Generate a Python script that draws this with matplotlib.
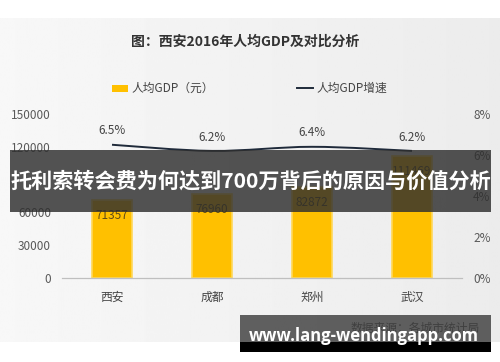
import matplotlib

matplotlib.use("Agg")
import matplotlib.pyplot as plt
import numpy as np
from matplotlib.patches import Rectangle, PathPatch
from matplotlib.path import Path

plt.rcParams["font.family"] = ["Noto Sans CJK SC", "DejaVu Sans"]

W, H = 500, 362

cities = ["西安", "成都", "郑州", "武汉"]
gdp_per_capita = [71357, 76960, 82872, 111469]
growth_pct = [6.5, 6.2, 6.4, 6.2]
left_ticks = [0, 30000, 60000, 120000, 150000]
right_ticks = [0, 2, 4, 6, 8]

BAR_COLOR = "#FFC000"
LINE_COLOR = "#1f2a3a"
TEXT_GRAY = "#595959"


def fx(px):
    return px / W


def fy(py):
    return 1 - py / H


def smooth_path(xs, ys):
    # catmull-rom segments turned into cubic bezier curves
    pts = np.column_stack([xs, ys]).astype(float)
    verts = [pts[0]]
    codes = [Path.MOVETO]
    n = len(pts)
    for i in range(n - 1):
        p0 = pts[i - 1] if i > 0 else pts[i]
        p1 = pts[i]
        p2 = pts[i + 1]
        p3 = pts[i + 2] if i + 2 < n else pts[i + 1]
        c1 = p1 + (p2 - p0) / 6.0
        c2 = p2 - (p3 - p1) / 6.0
        verts += [c1, c2, p2]
        codes += [Path.CURVE4] * 3
    return Path(verts, codes)


fig = plt.figure(figsize=(W / 100, H / 100), dpi=100)
fig.patch.set_facecolor("white")

# light gray photo background with a soft horizontal gradient
bg = fig.add_axes([0, fy(342), 1, fy(18) - fy(342)], zorder=-5)
grad = np.linspace(0.97, 0.925, 256).reshape(1, -1)
bg.imshow(grad, aspect="auto", cmap="gray", vmin=0, vmax=1, extent=[0, 1, 0, 1])
bg.axis("off")

ax = fig.add_axes([fx(62), fy(278), fx(462) - fx(62), fy(114) - fy(278)])
ax.set_facecolor("none")
x = np.arange(len(cities))

ax.bar(x, gdp_per_capita, width=0.4, color=BAR_COLOR,
       edgecolor="#ffd85a", linewidth=1.2, zorder=2)
for xi, v in zip(x, gdp_per_capita):
    ax.annotate(str(v), (xi, v), xytext=(0, -11), textcoords="offset points",
                ha="center", va="center", fontsize=8.5, color="#5e4b18", zorder=3)

ax.set_xlim(-0.5, 3.5)
ax.set_ylim(0, 150000)
ax.set_yticks(left_ticks)
ax.set_yticklabels([str(t) for t in left_ticks])
ax.set_xticks(x)
ax.set_xticklabels(cities)
ax.tick_params(axis="y", length=0, pad=8, labelsize=8.5, labelcolor=TEXT_GRAY)
ax.tick_params(axis="x", length=0, pad=9, labelsize=8.5, labelcolor="#444444")
for side in ["top", "left", "right"]:
    ax.spines[side].set_visible(False)
ax.spines["bottom"].set_color("#bfbfbf")
ax.spines["bottom"].set_linewidth(0.9)

ax2 = ax.twinx()
ax2.set_ylim(0, 8)
ax2.set_yticks(right_ticks)
ax2.set_yticklabels([f"{t}%" for t in right_ticks])
ax2.tick_params(axis="y", length=0, pad=8, labelsize=8.5, labelcolor=TEXT_GRAY)
for side in ["top", "left", "right", "bottom"]:
    ax2.spines[side].set_visible(False)

ax2.add_patch(PathPatch(smooth_path(x, growth_pct), facecolor="none",
                        edgecolor=LINE_COLOR, linewidth=1.4, zorder=4))
for xi, g in zip(x, growth_pct):
    ax2.annotate(f"{g}%", (xi, g), xytext=(0, 10), textcoords="offset points",
                 ha="center", va="center", fontsize=8.5, color="#444444")

# title and legend
fig.text(fx(245), fy(42), "图：西安2016年人均GDP及对比分析", ha="center", va="center",
         fontsize=10, fontweight="bold", color="#333333")
fig.patches.append(Rectangle((fx(112), fy(92)), fx(16), fy(85) - fy(92),
                             transform=fig.transFigure, facecolor=BAR_COLOR,
                             edgecolor="none"))
fig.text(fx(131), fy(88), "人均GDP（元）", ha="left", va="center",
         fontsize=8.5, color="#444444")
fig.add_artist(plt.Line2D([fx(297), fx(313)], [fy(88), fy(88)],
                          color=LINE_COLOR, linewidth=1.4))
fig.text(fx(316), fy(88), "人均GDP增速", ha="left", va="center",
         fontsize=8.5, color="#444444")

fig.text(fx(480), fy(328), "数据来源：各城市统计局", ha="right", va="center",
         fontsize=8.5, color="#555555")

# overlay banners
fig.patches.append(Rectangle((fx(10), fy(212)), fx(491) - fx(10), fy(150) - fy(212),
                             transform=fig.transFigure, facecolor="#2e2e2e",
                             alpha=0.82, edgecolor="none", zorder=10))
fig.text(fx(251), fy(181), "托利索转会费为何达到700万背后的原因与价值分析",
         ha="center", va="center", fontsize=15.2, fontweight="bold",
         color="white", zorder=11)

fig.patches.append(Rectangle((fx(240), fy(342)), fx(491) - fx(240), fy(315) - fy(342),
                             transform=fig.transFigure, facecolor="#3a3a3a",
                             alpha=0.8, edgecolor="none", zorder=10))
fig.patches.append(Rectangle((fx(240), fy(352)), fx(491) - fx(240), fy(342) - fy(352),
                             transform=fig.transFigure, facecolor="black",
                             edgecolor="none", zorder=10))
fig.text(fx(364), fy(336), "www.lang-wendingapp.com", ha="center", va="center",
         fontsize=12, fontweight="bold", color="white", zorder=11,
         family=["Open Sans", "DejaVu Sans"])

fig.savefig("out.png", dpi=100)
